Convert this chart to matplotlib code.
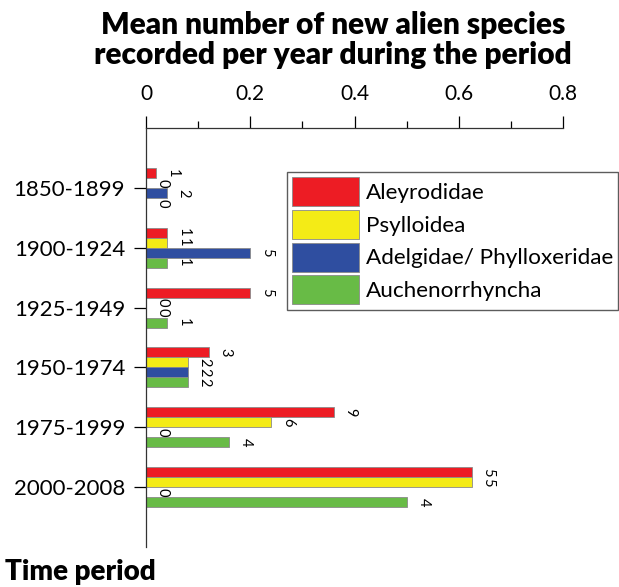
import matplotlib
matplotlib.use("Agg")
import numpy as np
import matplotlib.pyplot as plt
from matplotlib.ticker import MultipleLocator

plt.rcParams["font.family"] = ["Lato", "DejaVu Sans"]

# data (rates = mean new species per year, counts = labels)
periods = ["1850-1899", "1900-1924", "1925-1949", "1950-1974", "1975-1999", "2000-2008"]
groups = ["Aleyrodidae", "Psylloidea", "Adelgidae/ Phylloxeridae", "Auchenorrhyncha"]
colors = ["#ED1C24", "#F4EB16", "#2F4EA0", "#68BB46"]

aleyrodidae = [0.02, 0.04, 0.20, 0.12, 0.36, 0.625]
psylloidea = [0.0, 0.04, 0.0, 0.08, 0.24, 0.625]
adelgidae = [0.04, 0.20, 0.0, 0.08, 0.0, np.nan]
auchenorrhyncha = [0.0, 0.04, 0.04, 0.08, 0.16, 0.50]

n_aleyrodidae = ["1", "1", "5", "3", "9", "5"]
n_psylloidea = ["0", "1", "0", "2", "6", "5"]
n_adelgidae = ["2", "5", "0", "2", "0", "0"]
n_auchenorrhyncha = ["0", "1", "1", "2", "4", "4"]

rates = [aleyrodidae, psylloidea, adelgidae, auchenorrhyncha]
counts = [n_aleyrodidae, n_psylloidea, n_adelgidae, n_auchenorrhyncha]

fig = plt.figure(figsize=(6.19, 5.87), dpi=100)
ax = fig.add_axes([146 / 619, 1 - 547 / 587, 417 / 619, 419 / 587])

y = np.arange(len(periods))
h = 0.167
offsets = [-1.5 * h, -0.5 * h, 0.5 * h, 1.5 * h]

for vals, labs, c, off, name in zip(rates, counts, colors, offsets, groups):
    v = np.nan_to_num(np.array(vals, dtype=float))
    ax.barh(y + off, v, height=h, color=c, edgecolor="#8a8a8a", lw=0.6,
            label=name, zorder=2)
    for yi, vi, lab in zip(y, v, labs):
        ax.annotate(lab, (vi, yi + off), xytext=(7, 0), textcoords="offset points",
                    rotation=-90, ha="left", va="center", fontsize=10.5)

ax.set_xlim(0, 0.8)
ax.set_ylim(6, -1)
ax.set_yticks(y)
ax.set_yticklabels(periods, fontsize=16)
ax.xaxis.set_major_locator(MultipleLocator(0.2))
ax.xaxis.set_minor_locator(MultipleLocator(0.1))
ax.xaxis.set_major_formatter(plt.FuncFormatter(lambda v, p: "0" if v == 0 else f"{v:.1f}"))
ax.xaxis.tick_top()
ax.tick_params(axis="x", which="major", length=9, width=0.9, pad=8, labelsize=15)
ax.tick_params(axis="x", which="minor", length=5, width=0.9)
ax.tick_params(axis="y", length=9, width=0.9, pad=6)
for s in ("right", "bottom"):
    ax.spines[s].set_visible(False)
for s in ("left", "top"):
    ax.spines[s].set_linewidth(0.9)
    ax.spines[s].set_color("#333333")

fig.text(333 / 619, 1 - 40 / 587,
         "Mean number of new alien species\nrecorded per year during the period",
         ha="center", va="center", fontsize=21.5, fontweight="heavy", linespacing=1.12)
fig.text(5 / 619, 1 - 572 / 587, "Time period", ha="left", va="center",
         fontsize=20, fontweight="heavy")

fig.legend(loc="upper left", bbox_to_anchor=(287 / 619, 1 - 172 / 587),
           fontsize=16.2, frameon=True, fancybox=False, edgecolor="#333333",
           handlelength=2.98, handleheight=1.6, labelspacing=0.165,
           handletextpad=0.27, borderpad=0.24, borderaxespad=0)

fig.savefig("out.png", dpi=100)
